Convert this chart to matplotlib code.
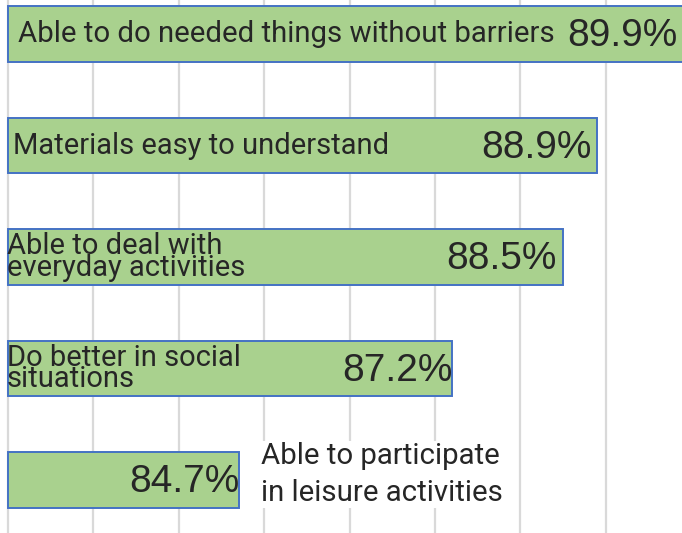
import matplotlib
matplotlib.use("Agg")
import matplotlib.pyplot as plt
from matplotlib.transforms import offset_copy

categories = [
    "Able to do needed things without barriers",
    "Materials easy to understand",
    "Able to deal with\neveryday activities",
    "Do better in social\nsituations",
    "Able to participate\nin leisure activities",
]
values = [89.9, 88.9, 88.5, 87.2, 84.7]
value_labels = ["89.9%", "88.9%", "88.5%", "87.2%", "84.7%"]
grid_ticks = [82, 83, 84, 85, 86, 87, 88, 89]

BASE = 82
PX_PER_UNIT = 85.4
W, H = 682, 533

fig = plt.figure(figsize=(W / 100, H / 100), dpi=100)
ax = fig.add_axes([0, 0, 1, 1])
x_left = BASE - 8 / PX_PER_UNIT
ax.set_xlim(x_left, x_left + W / PX_PER_UNIT)
ax.set_ylim(4.475, -0.305)

for g in grid_ticks:
    ax.axvline(g, color="#d9d9d9", lw=1.6, zorder=0)

ypos = list(range(len(values)))
ax.barh(ypos, [v - BASE for v in values], left=BASE, height=0.5,
        color="#a9d18e", edgecolor="#4472c4", linewidth=1.4, zorder=2)

for s in ax.spines.values():
    s.set_visible(False)
ax.set_xticks([])
ax.set_yticks([])

cat_font = ["Roboto", "DejaVu Sans"]
val_font = ["Liberation Sans", "DejaVu Sans"]
txt_col = "#262626"

def px2x(px):
    return x_left + px / PX_PER_UNIT

# category labels (layout positions in pixels)
cat_x_px = [18, 13, 7, 7, 261]
cat_dy = [0, 0, 0, 0, -0.05]
cat_ls = [1.0, 1.0, 0.72, 0.72, 1.4]
cat_fs = [21.2, 21, 21, 21, 21.2]
for i, (c, xp, ls, dy, fs) in enumerate(zip(categories, cat_x_px, cat_ls, cat_dy, cat_fs)):
    kw = {}
    if i == 4:
        kw["bbox"] = dict(facecolor="white", edgecolor="none", pad=1)
    ax.text(px2x(xp), i + dy, c, ha="left", va="center", fontsize=fs,
            family=cat_font, color=txt_col, linespacing=ls, zorder=3, **kw)

# value labels
val_off_px = [-5, -6, -6, 1, 1]
for i, (v, lab, off) in enumerate(zip(values, value_labels, val_off_px)):
    tr = offset_copy(ax.transData, fig=fig, x=off, y=0, units="dots")
    ax.text(v, i + 0.02, lab, ha="right", va="center", fontsize=28,
            family=val_font, color=txt_col, transform=tr, zorder=3)

fig.savefig("out.png", dpi=100)
